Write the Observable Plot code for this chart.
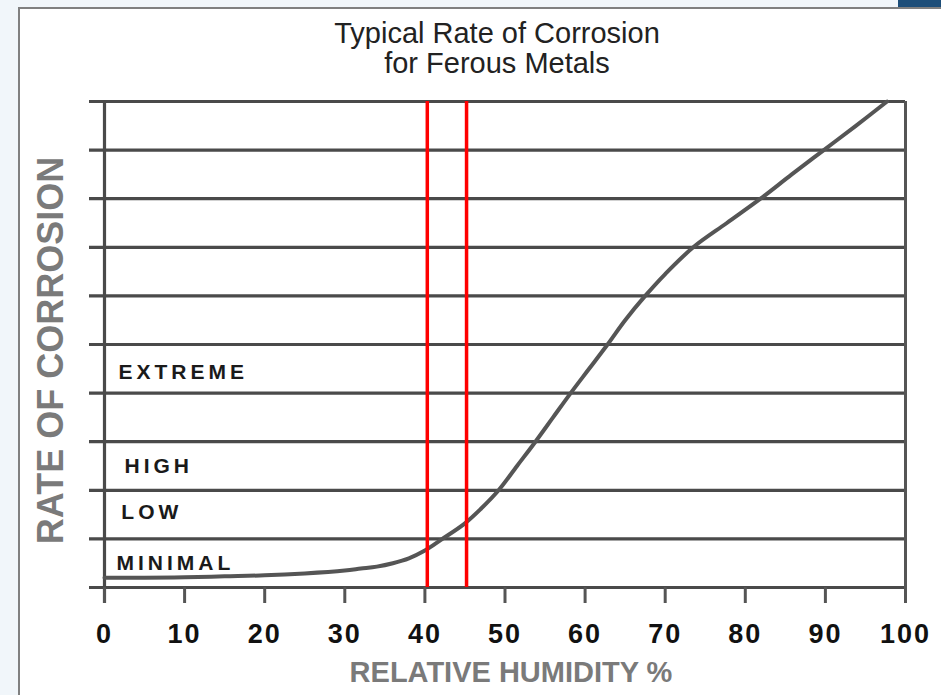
<!DOCTYPE html>
<html>
<head>
<meta charset="utf-8">
<script src="https://cdn.jsdelivr.net/npm/d3@7"></script>
<script src="https://cdn.jsdelivr.net/npm/@observablehq/plot@0.6"></script>
<style>
  html, body { margin: 0; padding: 0; width: 941px; height: 695px; overflow: hidden; background: #f1f6fa; }
  #panel { position: absolute; left: 18px; top: 7px; width: 940px; height: 700px; background: #fff;
           border-left: 2px solid #808080; border-top: 2px solid #808080; }
  #corner { position: absolute; left: 898px; top: 0; width: 43px; height: 7px; background: #1d4e79; }
  #wrap { position: absolute; left: 0; top: 0; width: 941px; }
  #title { height: 88px; box-sizing: border-box; padding-top: 18px; padding-left: 53px; text-align: center;
           font-family: "Liberation Sans", Arial, sans-serif; font-size: 29px; line-height: 30px; color: #222; }
  #chart svg { display: block; }
  g[aria-label="x-axis tick label"] text { letter-spacing: 2px; }
  g.zone text { letter-spacing: 4px; }
</style>
</head>
<body>
<div id="panel"></div>
<div id="corner"></div>
<div id="wrap">
  <div id="title">Typical Rate of Corrosion<br>for Ferous Metals</div>
  <div id="chart"></div>
</div>
<script>
// Curve: relative humidity (%) vs rate of corrosion (grid units)
const humidity = [0, 5, 10, 15, 20, 25, 30, 32, 34, 36, 38, 40, 42, 45, 47, 49.2, 51.5, 53.8, 56, 58.2, 60.5, 62.8, 65, 67.5, 70, 73.5, 77.7, 81.9, 85.8, 89.8, 93.8, 97.7];
const rate     = [0.2, 0.2, 0.21, 0.23, 0.25, 0.29, 0.35, 0.39, 0.43, 0.5, 0.6, 0.76, 0.98, 1.32, 1.62, 2.0, 2.5, 3.0, 3.5, 4.0, 4.5, 5.0, 5.5, 6.0, 6.45, 7.0, 7.5, 8.0, 8.5, 9.0, 9.5, 10.0];

// Horizontal grid lines
const gridY = [0, 1, 2, 3, 4, 5, 6, 7, 8, 9, 10];
// X ticks
const xTicks = [0, 10, 20, 30, 40, 50, 60, 70, 80, 90, 100];
// Red markers (humidity %)
const markers = [40.3, 45.2];
// Zone labels
const zoneNames = ["EXTREME", "HIGH", "LOW", "MINIMAL"];
const zoneX = [1.75, 2.5, 2.1, 1.5];
const zoneY = [4.42, 2.49, 1.54, 0.49];

const curve = humidity.map((h, i) => ({h, r: rate[i]}));
const zones = zoneNames.map((t, i) => ({t, x: zoneX[i], y: zoneY[i]}));

const chart = Plot.plot({
  width: 941,
  height: 607,
  marginLeft: 104,
  marginRight: 36,
  marginTop: 13,
  marginBottom: 108,
  style: {background: "transparent", overflow: "visible", fontFamily: "Liberation Sans, Arial, sans-serif"},
  x: {domain: [0, 100], axis: null},
  y: {domain: [0, 10], axis: null},
  marks: [
    Plot.ruleY(gridY, {stroke: "#4a4a4a", strokeWidth: 3.2, insetLeft: -15}),
    Plot.ruleX([0], {stroke: "#4a4a4a", strokeWidth: 3.2, insetBottom: -16}),
    Plot.ruleX([100], {stroke: "#555", strokeWidth: 3}),
    Plot.axisX(xTicks, {
      anchor: "bottom", tickSize: 16, tickPadding: 20, stroke: "#555", strokeWidth: 3,
      fontSize: 27, fontWeight: "bold", fill: "#111", label: null
    }),
    Plot.line(curve, {x: "h", y: "r", curve: "catmull-rom", stroke: "#555", strokeWidth: 4}),
    Plot.ruleX(markers, {stroke: "#ff0000", strokeWidth: 3.5}),
    Plot.text(zones, {x: "x", y: "y", text: "t", textAnchor: "start", lineAnchor: "middle",
      fontSize: 21, fontWeight: "bold", fill: "#1a1a1a", className: "zone"}),
    Plot.text(["RATE OF CORROSION"], {frameAnchor: "left", rotate: -90, dx: -53, dy: 6,
      textAnchor: "middle", lineAnchor: "middle", fontSize: 36, fontWeight: "bold", fill: "#7a7a7a"}),
    Plot.text(["RELATIVE HUMIDITY %"], {frameAnchor: "bottom", dx: 6, dy: 85,
      textAnchor: "middle", lineAnchor: "middle", fontSize: 29, fontWeight: "bold", fill: "#7a7a7a"})
  ]
});
document.getElementById("chart").appendChild(chart);
</script>
</body>
</html>
